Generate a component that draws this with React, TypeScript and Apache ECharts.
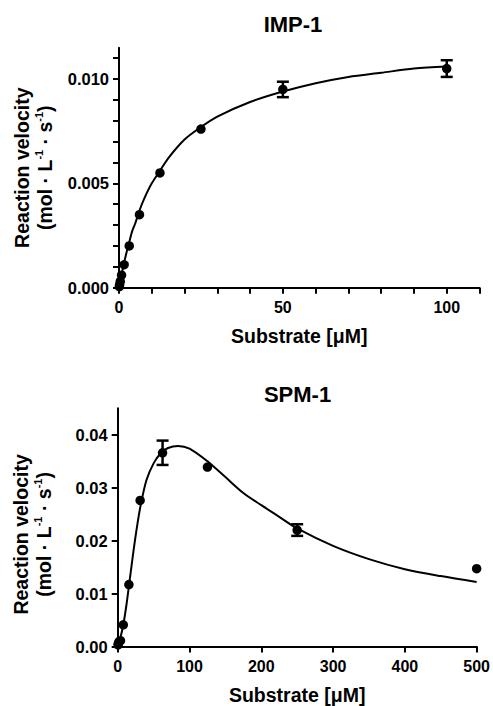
import React, { useEffect, useRef } from "react";
import * as echarts from "echarts";

const FONT = '"Liberation Sans", Arial, Helvetica, sans-serif';

// ---------- IMP-1 ----------
const impTitle = "IMP-1";
const impX = [0.098, 0.195, 0.39, 0.78, 1.5625, 3.125, 6.25, 12.5, 25, 50, 100];
const impY = [0.00005, 0.00015, 0.0003, 0.0006, 0.0011, 0.002, 0.0035, 0.0055, 0.0076, 0.0095, 0.0105];
const impErrX = [50, 100];
const impErrY = [0.0095, 0.0105];
const impErr = [0.00037, 0.0004];
const impCurveX = [0, 0.5, 1, 2, 3, 4, 5, 6.25, 7.5, 10, 12.5, 15, 20, 25, 30, 40, 50, 60, 70, 80, 90, 100];
const impCurveY = [0, 0.0004, 0.0008, 0.0015, 0.0021, 0.0027, 0.0031, 0.0037, 0.0042, 0.005, 0.0056, 0.0062, 0.0071, 0.0077, 0.0082, 0.0089, 0.0094, 0.0098, 0.0101, 0.0103, 0.0105, 0.0106];
const impXTicks = [0, 10, 20, 30, 40, 50, 60, 70, 80, 90, 100, 110];
const impXLabels = [0, 50, 100];
const impYTicks = [0, 0.001, 0.002, 0.003, 0.004, 0.005, 0.006, 0.007, 0.008, 0.009, 0.01, 0.011];
const impYLabels = [0, 0.005, 0.01];

// ---------- SPM-1 ----------
const spmTitle = "SPM-1";
const spmX = [0.49, 0.98, 1.95, 3.9, 7.8, 15.6, 31.25, 62.5, 125, 250, 500];
const spmY = [0.0003, 0.0006, 0.0009, 0.0011, 0.0041, 0.0117, 0.0276, 0.0366, 0.0339, 0.022, 0.0147];
const spmErrX = [62.5, 250];
const spmErrY = [0.0366, 0.022];
const spmErr = [0.0023, 0.0011];
const spmCurveX = [0, 4, 7.8, 12, 16, 20, 24, 28, 32, 40, 50, 60, 70, 84, 100, 125, 150, 175, 200, 225, 250, 300, 350, 400, 450, 500];
const spmCurveY = [0, 0.0018, 0.0041, 0.0077, 0.0118, 0.016, 0.02, 0.0236, 0.0267, 0.0314, 0.0346, 0.0365, 0.0375, 0.0379, 0.0374, 0.035, 0.032, 0.029, 0.0267, 0.0245, 0.0223, 0.019, 0.0165, 0.0146, 0.0133, 0.0122];
const spmXTicks = [0, 100, 200, 300, 400, 500];
const spmXLabels = [0, 100, 200, 300, 400, 500];
const spmYTicks = [0, 0.01, 0.02, 0.03, 0.04];
const spmYLabels = [0, 0.01, 0.02, 0.03, 0.04];

const xName = "Substrate [μM]";
const yName = "{a|Reaction velocity}\n{b|(mol · L}{s|-1}{b| · s}{s|-1}{b|)}";

const zip = (a: number[], b: number[]) => a.map((v, i) => [v, b[i]]);
const zip3 = (a: number[], b: number[], c: number[]) => a.map((v, i) => [v, b[i], c[i]]);

const axisLineStyle = { color: "#000", width: 2 };

function xAxisCfg(gridIndex: number, max: number, ticks: number[], labels: number[]) {
  return {
    type: "value",
    gridIndex,
    min: 0,
    max,
    axisLine: { show: true, onZero: false, lineStyle: axisLineStyle },
    axisTick: { show: true, inside: false, length: 6, lineStyle: axisLineStyle, customValues: ticks },
    axisLabel: {
      show: true,
      customValues: labels,
      margin: 12,
      color: "#000",
      fontSize: 16,
      fontWeight: "bold",
      fontFamily: FONT,
      formatter: (v: number) => String(v),
    },
    splitLine: { show: false },
    name: xName,
    nameLocation: "middle",
    nameGap: 38.5,
    nameTextStyle: { color: "#000", fontSize: 19.5, fontWeight: "bold", fontFamily: FONT },
  };
}

function yAxisCfg(gridIndex: number, max: number, ticks: number[], labels: number[], digits: number, shift: number) {
  const base = { color: "#000", fontWeight: "bold", fontFamily: FONT, fontSize: 19.5, lineHeight: 23 };
  return {
    type: "value",
    gridIndex,
    min: 0,
    max,
    axisLine: { show: true, onZero: false, lineStyle: axisLineStyle },
    axisTick: { show: true, inside: false, length: 6, lineStyle: axisLineStyle, customValues: ticks },
    axisLabel: {
      show: true,
      customValues: labels,
      margin: 10,
      color: "#000",
      fontSize: 16.5,
      fontWeight: "bold",
      fontFamily: FONT,
      formatter: (v: number) => v.toFixed(digits),
    },
    splitLine: { show: false },
    name: yName,
    nameLocation: "middle",
    nameGap: 62,
    nameTextStyle: {
      ...base,
      padding: [0, shift, 0, 0],
      rich: {
        a: { ...base },
        b: { ...base },
        s: { color: "#000", fontWeight: "bold", fontFamily: FONT, fontSize: 11, lineHeight: 10, verticalAlign: "top" },
      },
    },
  };
}

function errorRender(params: any, api: any) {
  const x = api.value(0);
  const y = api.value(1);
  const e = api.value(2);
  const top = api.coord([x, y + e]);
  const bot = api.coord([x, y - e]);
  const w = 6;
  const style = { stroke: "#000", lineWidth: 2.5 };
  return {
    type: "group",
    children: [
      { type: "line", shape: { x1: top[0], y1: top[1], x2: bot[0], y2: bot[1] }, style },
      { type: "line", shape: { x1: top[0] - w, y1: top[1], x2: top[0] + w, y2: top[1] }, style },
      { type: "line", shape: { x1: bot[0] - w, y1: bot[1], x2: bot[0] + w, y2: bot[1] }, style },
    ],
  };
}

function seriesFor(idx: number, cx: number[], cy: number[], px: number[], py: number[], ex: number[], ey: number[], ee: number[]) {
  return [
    {
      type: "line",
      xAxisIndex: idx,
      yAxisIndex: idx,
      data: zip(cx, cy),
      showSymbol: false,
      smooth: 0.3,
      lineStyle: { color: "#000", width: 2 },
      silent: true,
      z: 2,
    },
    {
      type: "custom",
      xAxisIndex: idx,
      yAxisIndex: idx,
      data: zip3(ex, ey, ee),
      renderItem: errorRender,
      encode: { x: 0, y: 1 },
      silent: true,
      z: 3,
    },
    {
      type: "scatter",
      xAxisIndex: idx,
      yAxisIndex: idx,
      data: zip(px, py),
      symbol: "circle",
      symbolSize: 9.5,
      itemStyle: { color: "#000", opacity: 1 },
      silent: true,
      z: 4,
    },
  ];
}

export default function App() {
  const ref = useRef<HTMLDivElement>(null);
  useEffect(() => {
    document.body.style.margin = "0";
    const chart = echarts.init(ref.current as HTMLDivElement, null, { renderer: "svg" });
    const titleStyle = (text: string) => ({
      text,
      fill: "#000",
      font: `bold 22px ${FONT}`,
      textAlign: "center",
      textVerticalAlign: "middle",
    });
    chart.setOption({
      animation: false,
      backgroundColor: "#fff",
      textStyle: { fontFamily: FONT },
      grid: [
        { left: 119, top: 47.7, width: 360.5, height: 240 },
        { left: 117.7, top: 408.3, width: 360.6, height: 240 },
      ],
      xAxis: [xAxisCfg(0, 110, impXTicks, impXLabels), xAxisCfg(1, 500, spmXTicks, spmXLabels)],
      yAxis: [yAxisCfg(0, 0.0115, impYTicks, impYLabels, 3, 0), yAxisCfg(1, 0.045, spmYTicks, spmYLabels, 2, 14)],
      graphic: [
        { type: "text", x: 293, y: 24.5, style: titleStyle(impTitle) },
        { type: "text", x: 297.5, y: 394.5, style: titleStyle(spmTitle) },
      ],
      series: [
        ...seriesFor(0, impCurveX, impCurveY, impX, impY, impErrX, impErrY, impErr),
        ...seriesFor(1, spmCurveX, spmCurveY, spmX, spmY, spmErrX, spmErrY, spmErr),
      ],
    });
    return () => chart.dispose();
  }, []);
  return <div ref={ref} style={{ width: 493, height: 706 }} />;
}
